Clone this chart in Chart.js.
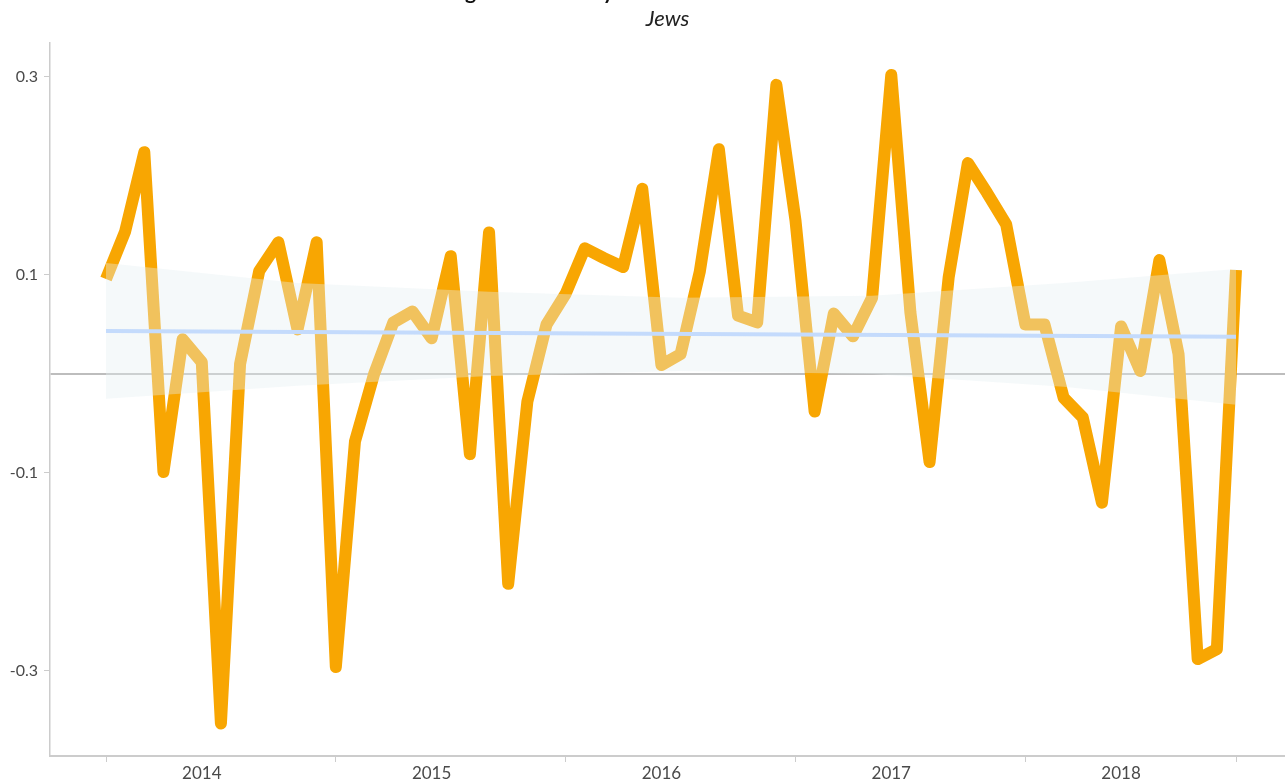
<!DOCTYPE html>
<html>
<head>
<meta charset="utf-8">
<script src="https://cdn.jsdelivr.net/npm/chart.js@4.4.1/dist/chart.umd.min.js"></script>
<style>
    html, body { margin: 0; padding: 0; background: #fff; overflow: hidden; }
    #cadre { position: absolute; left: 0; top: -17px; width: 1285px; height: 799px; }
</style>
</head>
<body>
<div id="cadre"><canvas id="graph"></canvas></div>
<script>
// ── Données ───────────────────────────────────────────────────────────
const TITRE      = 'Average sentiment by month for the main communities';
const SOUS_TITRE = 'Jews';

/** Sentiment moyen mensuel, janv. 2014 → déc. 2018 (60 mois) */
const SENTIMENT = [
     0.096,  0.144,  0.224, -0.099,  0.035,  0.012, -0.353,  0.010,  0.104,  0.133,
     0.045,  0.133, -0.296, -0.068,  0.000,  0.052,  0.063,  0.036,  0.119, -0.081,
     0.143, -0.212, -0.028,  0.050,  0.081,  0.127,  0.117,  0.108,  0.187,  0.009,
     0.020,  0.103,  0.227,  0.059,  0.052,  0.292,  0.155, -0.038,  0.061,  0.038,
     0.077,  0.302,  0.062, -0.089,  0.098,  0.213,  0.183,  0.151,  0.050,  0.050,
    -0.024, -0.044, -0.130,  0.048,  0.003,  0.115,  0.020, -0.288, -0.278,  0.105,
];

/** Droite de tendance (début / fin) */
const TENDANCE_X = [0, 59];
const TENDANCE_Y = [0.0434, 0.0377];

/** Intervalle de confiance de la tendance */
const BANDE_X    = [0, 10, 20, 30, 40, 50, 59];
const BANDE_HAUT = [0.112, 0.092, 0.083, 0.077, 0.079, 0.092, 0.106];
const BANDE_BAS  = [-0.025, -0.012, -0.002, 0.003, 0.000, -0.013, -0.031];

/** Axe X : traits de séparation et étiquettes d'années */
const TRAITS_X   = [0, 12, 24, 36, 48, 59];
const ANNEES     = ['2014', '2015', '2016', '2017', '2018'];
const POS_ANNEES = [5, 17, 29, 41, 53];

/** Axe Y */
const TICKS_Y = [-0.3, -0.1, 0, 0.1, 0.3];

// ── Styles ────────────────────────────────────────────────────────────
const ORANGE      = '#f8a602';
const BLEU_TREND  = '#c4dbfc';
const GRIS_AXE    = '#cccccc';
const TRANSPARENT = 'rgba(0,0,0,0)';
const POLICE      = 'Lato, "Open Sans", sans-serif';

const points = (xs, ys) => xs.map((x, k) => ({ x, y: ys[k] }));

new Chart(document.getElementById('graph'), {
    type: 'line',
    data: {
        datasets: [
            {
                label:       'Tendance',
                data:        points(TENDANCE_X, TENDANCE_Y),
                borderColor: BLEU_TREND,
                borderWidth: 4,
                pointRadius: 0,
                order:       0,
            },
            {
                label:           'IC haut',
                data:            points(BANDE_X, BANDE_HAUT),
                borderColor:     TRANSPARENT,
                borderWidth:     0,
                pointRadius:     0,
                fill:            '+1',
                backgroundColor: 'rgba(230,238,242,0.38)',
                order:           1,
            },
            {
                label:       'IC bas',
                data:        points(BANDE_X, BANDE_BAS),
                borderColor: TRANSPARENT,
                borderWidth: 0,
                pointRadius: 0,
                fill:        false,
                order:       1,
            },
            {
                label:           'Sentiment',
                data:            SENTIMENT.map((y, i) => ({ x: i, y })),
                borderColor:     ORANGE,
                borderWidth:     12,
                borderJoinStyle: 'round',
                borderCapStyle:  'butt',
                pointRadius:     0,
                order:           2,
            },
        ],
    },
    options: {
        responsive:          true,
        maintainAspectRatio: false,
        animation:           false,
        layout: { padding: 0 },
        plugins: {
            legend:  { display: false },
            tooltip: { enabled: false },
            title: {
                display:  true,
                text:     TITRE,
                fullSize: false,
                color:    '#111',
                font:     { family: POLICE, size: 21, weight: 'bold', lineHeight: 0.857 },
                padding:  { top: 0, bottom: 5 },
            },
            subtitle: {
                display:  true,
                text:     SOUS_TITRE,
                fullSize: false,
                color:    '#222',
                font:     { family: POLICE, size: 22, style: 'italic' },
                padding:  { top: 0, bottom: 10.6 },
            },
        },
        scales: {
            x: {
                type: 'linear',
                min:  -2.924,
                max:  61.558,
                afterBuildTicks: s => { s.ticks = TRAITS_X.concat(POS_ANNEES).sort((a, b) => a - b).map(v => ({ value: v })); },
                afterFit:        s => { s.height = 26; },
                ticks: {
                    autoSkip:    false,
                    maxRotation: 0,
                    padding:     1,
                    color:       '#4a4a4a',
                    font:        { family: POLICE, size: 17 },
                    callback:    v => { const k = POS_ANNEES.indexOf(v); return k >= 0 ? ANNEES[k] : ''; },
                },
                grid: {
                    drawOnChartArea: false,
                    tickLength:      6,
                    tickColor:       c => POS_ANNEES.includes(c.tick && c.tick.value) ? TRANSPARENT : GRIS_AXE,
                },
                border: { color: GRIS_AXE, width: 2 },
            },
            y: {
                min: -0.3859,
                max:  0.3343,
                afterBuildTicks: s => { s.ticks = TICKS_Y.map(v => ({ value: v })); },
                afterFit:        s => { s.width = 50; },
                ticks: {
                    padding:  6,
                    color:    '#4a4a4a',
                    font:     { family: POLICE, size: 16 },
                    callback: v => (v === 0 ? '' : String(v)),
                },
                grid: {
                    tickLength: 6,
                    color:      c => (c.tick && c.tick.value === 0 ? '#bdbdbd' : TRANSPARENT),
                    lineWidth:  c => (c.tick && c.tick.value === 0 ? 2 : 1),
                    tickColor:  c => (c.tick && c.tick.value === 0 ? TRANSPARENT : GRIS_AXE),
                },
                border: { color: GRIS_AXE, width: 1.5 },
            },
        },
    },
});
</script>
</body>
</html>
